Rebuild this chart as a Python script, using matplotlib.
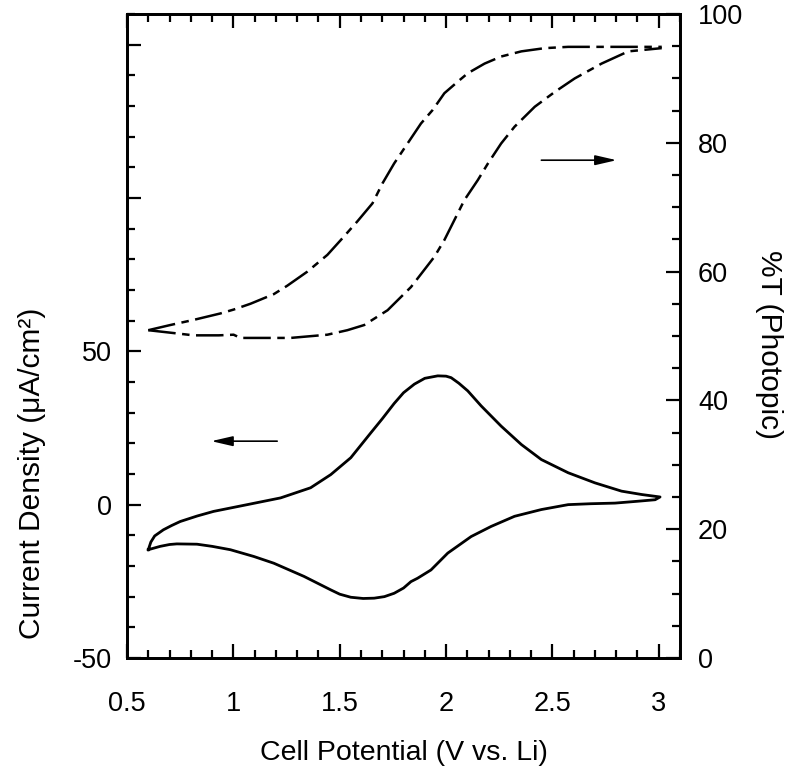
import matplotlib.pyplot as plt
from matplotlib.ticker import MultipleLocator, FixedLocator

plt.rcParams['font.family'] = ['Liberation Sans', 'DejaVu Sans']

# Cyclic voltammogram (left axis), traced as one closed loop
cv_potential = [0.600, 0.612, 0.630, 0.671, 0.710, 0.750, 0.830, 0.907, 1.065, 1.222,
                1.363, 1.458, 1.552, 1.646, 1.700, 1.756, 1.800, 1.851, 1.900, 1.961,
                2.000, 2.024, 2.060, 2.102, 2.165, 2.259, 2.354, 2.448, 2.574, 2.700,
                2.825, 2.920, 3.006,
                2.983, 2.900, 2.794, 2.680, 2.574, 2.448, 2.322, 2.212, 2.118, 2.008,
                1.929, 1.866, 1.835, 1.800, 1.756, 1.710, 1.662, 1.610, 1.552, 1.500,
                1.458, 1.332, 1.190, 1.096, 0.986, 0.900, 0.829, 0.734, 0.700, 0.656,
                0.620, 0.600]
cv_current = [-14.7, -12.2, -10.2, -8.2, -6.8, -5.5, -3.7, -2.2, 0.0, 2.2,
              5.5, 9.8, 15.3, 23.4, 28.0, 33.0, 36.5, 39.3, 41.2, 42.0,
              41.9, 41.4, 39.6, 37.1, 32.2, 25.6, 19.6, 14.7, 10.4, 7.1,
              4.4, 3.3, 2.5,
              1.6, 1.1, 0.5, 0.3, 0.0, -1.6, -3.8, -7.1, -10.4, -15.8,
              -21.3, -24.0, -25.1, -27.2, -28.9, -30.0, -30.5, -30.6, -30.2, -29.2,
              -27.8, -23.4, -19.1, -16.9, -14.7, -13.6, -12.9, -12.8, -13.0, -13.6,
              -14.3, -14.7]

# Photopic transmission (right axis)
t_upper_x = [0.600, 0.703, 0.813, 0.939, 1.001, 1.080, 1.190, 1.253, 1.348, 1.442,
             1.505, 1.583, 1.654, 1.701, 1.756, 1.819, 1.882, 1.937, 1.992, 2.055,
             2.102, 2.181, 2.259, 2.354, 2.464, 2.574, 2.731, 2.888, 3.014]
t_upper = [50.9, 51.7, 52.5, 53.5, 54.1, 55.0, 56.5, 57.8, 60.0, 62.6,
           64.9, 67.8, 70.6, 73.7, 76.8, 79.9, 83.0, 85.1, 87.7, 89.5,
           90.8, 92.3, 93.4, 94.2, 94.7, 94.9, 94.9, 94.9, 94.9]

t_lower_x = [0.600, 0.734, 0.813, 0.931, 1.001, 1.033, 1.190, 1.269, 1.442, 1.536,
             1.615, 1.725, 1.835, 1.945, 1.992, 2.039, 2.086, 2.149, 2.197, 2.259,
             2.322, 2.417, 2.511, 2.605, 2.731, 2.857, 3.014]
t_lower = [50.9, 50.4, 50.1, 50.1, 50.2, 49.7, 49.7, 49.7, 50.2, 50.9,
           51.7, 54.0, 57.6, 62.3, 64.9, 68.0, 71.1, 74.2, 76.8, 79.9,
           82.5, 85.6, 87.9, 90.0, 92.3, 94.2, 94.7]

left_ticks = [-50, 0, 50, 100, 150]
left_labels = ['-50', '0', '50', '', '']
x_ticks = [0.5, 1, 1.5, 2, 2.5, 3]
x_labels = ['0.5', '1', '1.5', '2', '2.5', '3']

fig = plt.figure(figsize=(7.9, 7.7), dpi=100)
ax = fig.add_axes([0.1608, 0.1455, 0.7, 0.8363])
ax2 = ax.twinx()

ax.plot(cv_potential, cv_current, color='k', lw=2.0, solid_joinstyle='round')
dash = (0, (11, 2.6, 3, 2.6))
ax2.plot(t_upper_x, t_upper, color='k', lw=1.8, linestyle=dash)
ax2.plot(t_lower_x, t_lower, color='k', lw=1.8, linestyle=dash)

ax.set_xlim(0.5, 3.1)
ax.set_ylim(-50, 160)
ax2.set_ylim(0, 100)

ax.xaxis.set_major_locator(FixedLocator(x_ticks))
ax.set_xticklabels(x_labels)
ax.xaxis.set_minor_locator(MultipleLocator(0.1))
ax.yaxis.set_major_locator(FixedLocator(left_ticks))
ax.set_yticklabels(left_labels)
ax.yaxis.set_minor_locator(MultipleLocator(10))
ax2.yaxis.set_major_locator(MultipleLocator(20))
ax2.yaxis.set_minor_locator(MultipleLocator(5))

for a in (ax, ax2):
    for s in a.spines.values():
        s.set_linewidth(2.0)
ax.tick_params(which='both', direction='in', top=True, right=False, width=1.6, labelsize=19.5)
ax.tick_params(which='major', length=10)
ax.tick_params(which='minor', length=6)
ax.tick_params(axis='x', which='major', pad=24)
ax.tick_params(axis='y', which='major', pad=11)
ax2.tick_params(which='both', direction='in', width=1.6, labelsize=19.5, pad=13)
ax2.tick_params(which='major', length=10)
ax2.tick_params(which='minor', length=6)

ax.set_xlabel('Cell Potential (V vs. Li)', fontsize=20.5, labelpad=16)
fig.text(0.040, 1 - 473 / 770, 'Current Density (μA/cm²)', rotation=90,
         ha='center', va='center', fontsize=21.5)
fig.text(0.973, 1 - 345 / 770, '%T (Photopic)', rotation=270,
         ha='center', va='center', fontsize=21.5)

# direction arrows
arrow = dict(arrowstyle='-|>,head_length=1.3,head_width=0.3', color='k', lw=1.2,
             shrinkA=0, shrinkB=0)
ax.annotate('', xy=(0.896, 20.7), xytext=(1.206, 20.7), arrowprops=arrow)
ax2.annotate('', xy=(2.802, 77.3), xytext=(2.448, 77.3), arrowprops=arrow)

fig.savefig('out.png', dpi=100)
